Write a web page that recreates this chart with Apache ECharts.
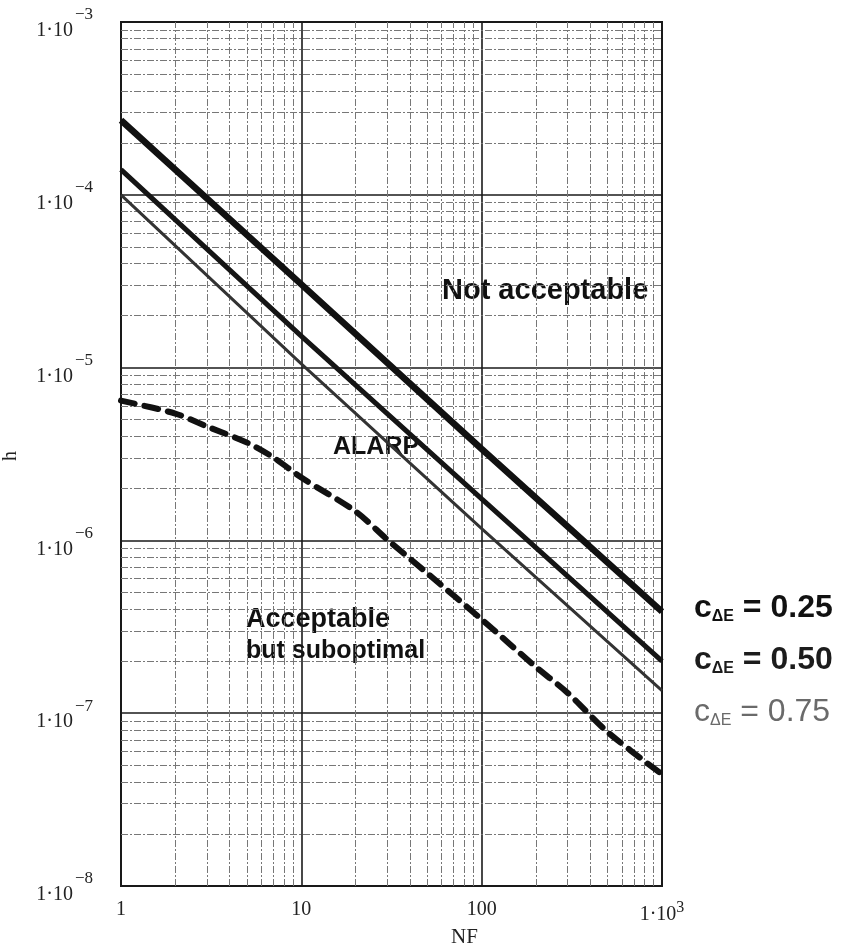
<!DOCTYPE html>
<html>
<head>
<meta charset="utf-8">
<script src="https://cdn.jsdelivr.net/npm/echarts@6/dist/echarts.min.js"></script>
<style>
  html, body { margin: 0; padding: 0; background: #fff; }
  #chart { width: 843px; height: 951px; }
</style>
</head>
<body>
<div id="chart"></div>
<script type="text/javascript">
// NF axis values for the three straight lines
var nf = [1, 10, 100, 1000];
var h025 = [2.7e-4, 3.03e-5, 3.38e-6, 3.87e-7];
var h050 = [1.4e-4, 1.52e-5, 1.74e-6, 2.0e-7];
var h075 = [1.0e-4, 1.05e-5, 1.17e-6, 1.35e-7];

// dashed boundary (acceptable / ALARP)
var nfDash = [1, 2, 3, 5, 7, 10, 20, 30, 50, 100, 200, 300, 500, 1000];
var hDash = [6.44e-6, 5.42e-6, 4.56e-6, 3.68e-6, 3.02e-6, 2.31e-6, 1.47e-6, 1.01e-6, 6.45e-7, 3.49e-7, 1.85e-7, 1.31e-7, 7.77e-8, 4.43e-8];

// minor grid positions
var mantissa = [2, 3, 4, 5, 6, 7, 8, 9];
var xDecades = [1, 10, 100];
var yDecades = [1e-8, 1e-7, 1e-6, 1e-5, 1e-4];

var xMinor = [];
xDecades.forEach(function (d) { mantissa.forEach(function (m) { xMinor.push(m * d); }); });
var yMinor = [];
yDecades.forEach(function (d) { mantissa.forEach(function (m) { yMinor.push(m * d); }); });

function pairs(xs, ys) {
    return xs.map(function (x, i) { return [x, ys[i]]; });
}

var serif = 'Liberation Serif';

var chart = echarts.init(document.getElementById('chart'));

// minor grid lines, end to end across the plot
var minorLines = [];
xMinor.forEach(function (v) { minorLines.push([{ coord: [v, 1e-8] }, { coord: [v, 1e-3] }]); });
yMinor.forEach(function (v) { minorLines.push([{ coord: [1, v] }, { coord: [1000, v] }]); });

function cLabel(val, color, weight) {
    var f = weight ? 'bold ' : '';
    return {
        text: '{c|c}{s|ΔE}{v| = ' + val + '}',
        rich: {
            c: { font: f + '32px "Liberation Sans"', fill: color },
            s: { font: f + '16px "Liberation Sans"', fill: color, padding: [18, 0, 0, 0] },
            v: { font: f + '32px "Liberation Sans"', fill: color }
        }
    };
}

var option = {
    animation: false,
    backgroundColor: '#fff',
    grid: {
        left: 121, right: 181, top: 22, bottom: 65,
        show: true,
        borderColor: '#1a1a1a',
        borderWidth: 2
    },
    xAxis: {
        type: 'log',
        logBase: 10,
        min: 1,
        max: 1000,
        interval: 1,
        axisLine: { show: false },
        axisTick: { show: false },
        splitLine: { show: true, lineStyle: { color: '#1a1a1a', width: 1.6 } },
        axisLabel: {
            margin: 14,
            color: '#222',
            fontFamily: serif,
            fontSize: 20,
            formatter: function (v) {
                if (v >= 1000) return '{m|1·10}{e|3}';
                return '{m|' + Math.round(v) + '}';
            },
            rich: {
                m: { fontFamily: serif, fontSize: 20, color: '#222' },
                e: { fontFamily: serif, fontSize: 16, color: '#222', padding: [0, 0, 14, 0] }
            }
        }
    },
    yAxis: {
        type: 'log',
        logBase: 10,
        min: 1e-8,
        max: 1e-3,
        interval: 1,
        axisLine: { show: false },
        axisTick: { show: false },
        splitLine: { show: true, lineStyle: { color: '#1a1a1a', width: 1.6 } },
        axisLabel: {
            margin: 28,
            color: '#222',
            fontFamily: serif,
            fontSize: 20,
            formatter: function (v) {
                var e = Math.round(Math.log(v) / Math.LN10);
                return '{m|1·10}{e|−' + (-e) + '}';
            },
            rich: {
                m: { fontFamily: serif, fontSize: 20, color: '#222', padding: [18, 0, 0, 0] },
                e: { fontFamily: serif, fontSize: 17, color: '#222', padding: [0, 0, 14, 2] }
            }
        }
    },
    graphic: [
        { type: 'text', left: 451, top: 927, style: { text: 'NF', font: '21px "Liberation Serif"', fill: '#222' } },
        { type: 'text', x: 11, y: 456, rotation: Math.PI / 2, style: { text: 'h', font: '20px "Liberation Serif"', fill: '#222', align: 'center', verticalAlign: 'middle' } },
        { type: 'text', left: 442, top: 276, style: { text: 'Not acceptable', font: 'bold 29px "Liberation Sans"', fill: '#111' } },
        { type: 'text', left: 333, top: 435, style: { text: 'ALARP', font: 'bold 25px "Liberation Sans"', fill: '#111' } },
        { type: 'text', left: 246, top: 606, style: { text: 'Acceptable', font: 'bold 27px "Liberation Sans"', fill: '#111' } },
        { type: 'text', left: 246, top: 639, style: { text: 'but suboptimal', font: 'bold 25px "Liberation Sans"', fill: '#111' } },
        { type: 'text', left: 694, top: 592, style: cLabel('0.25', '#111', true) },
        { type: 'text', left: 694, top: 644, style: cLabel('0.50', '#1c1c1c', true) },
        { type: 'text', left: 694, top: 696, style: cLabel('0.75', '#6a6a6a', false) }
    ],
    series: [
        {
            name: 'minor grid',
            type: 'line',
            data: [],
            silent: true,
            z: 1,
            markLine: {
                silent: true,
                symbol: ['none', 'none'],
                label: { show: false },
                lineStyle: { color: '#777', width: 1, type: [7, 2, 2, 2] },
                data: minorLines
            }
        },
        {
            name: 'c=0.25',
            type: 'line',
            data: pairs(nf, h025),
            showSymbol: false,
            z: 5,
            lineStyle: { color: '#111', width: 6.5 }
        },
        {
            name: 'c=0.50',
            type: 'line',
            data: pairs(nf, h050),
            showSymbol: false,
            z: 5,
            lineStyle: { color: '#151515', width: 5 }
        },
        {
            name: 'c=0.75',
            type: 'line',
            data: pairs(nf, h075),
            showSymbol: false,
            z: 5,
            lineStyle: { color: '#333', width: 3 }
        },
        {
            name: 'boundary',
            type: 'line',
            data: pairs(nfDash, hDash),
            showSymbol: false,
            smooth: 0.3,
            z: 5,
            lineStyle: { color: '#111', width: 6, type: [14, 10], cap: 'round' }
        }
    ]
};

chart.setOption(option);
</script>
</body>
</html>
